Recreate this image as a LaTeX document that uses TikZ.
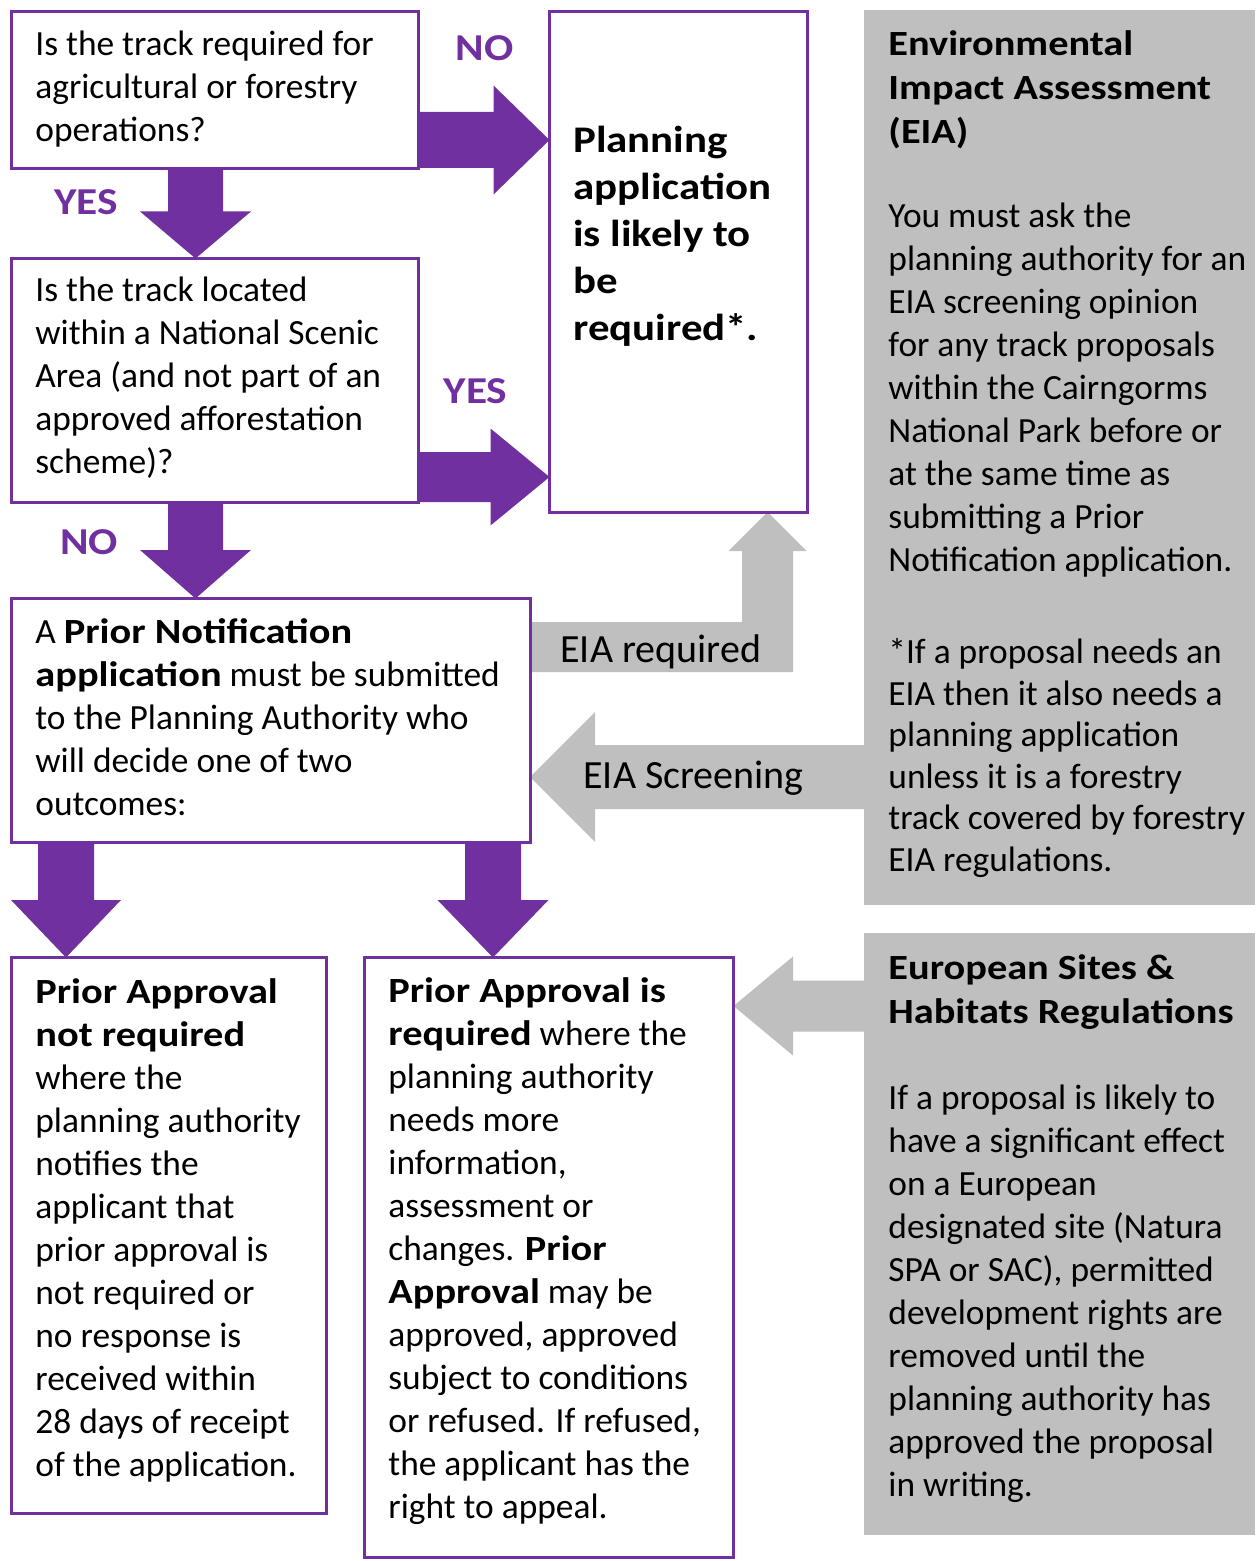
\documentclass[tikz,border=0pt]{standalone}
\usepackage{fontspec}
\setmainfont{Carlito}[BoldFeatures={FakeStretch=1.14}]
\usetikzlibrary{calc}
\definecolor{pu}{HTML}{7030A0}
\definecolor{gr}{HTML}{BFBFBF}
\newcommand{\fs}{\rule{0pt}{14pt}}
\newcommand{\fsb}{\rule{0pt}{15pt}}
% right-pointing block arrow: style, start, tip, shaft half, head half, head length
\newcommand{\arrR}[6]{\fill[#1] ($(#2)+(0,-#4)$) -- ($(#3)+(-#6,-#4)$) -- ($(#3)+(-#6,-#5)$) -- (#3) -- ($(#3)+(-#6,#5)$) -- ($(#3)+(-#6,#4)$) -- ($(#2)+(0,#4)$) -- cycle;}
\newcommand{\arrL}[6]{\fill[#1] ($(#2)+(0,-#4)$) -- ($(#3)+(#6,-#4)$) -- ($(#3)+(#6,-#5)$) -- (#3) -- ($(#3)+(#6,#5)$) -- ($(#3)+(#6,#4)$) -- ($(#2)+(0,#4)$) -- cycle;}
\newcommand{\arrD}[6]{\fill[#1] ($(#2)+(-#4,0)$) -- ($(#3)+(-#4,-#6)$) -- ($(#3)+(-#5,-#6)$) -- (#3) -- ($(#3)+(#5,-#6)$) -- ($(#3)+(#4,-#6)$) -- ($(#2)+(#4,0)$) -- cycle;}
\begin{document}
\begin{tikzpicture}[x=0.5pt,y=-0.5pt,
  box/.style={draw=pu, line width=1.5pt, anchor=north west, inner sep=0pt, outer sep=0pt},
  panel/.style={fill=gr, anchor=north west, inner sep=0pt, outer sep=0pt},
  txt/.style={anchor=north west, inner sep=0pt, align=left, font=\fontsize{17.7}{21.5}\selectfont},
  hdr/.style={txt, font=\fontsize{17.7}{22}\selectfont\bfseries},
  lbl/.style={inner sep=0pt, text=pu, font=\fontsize{19}{22}\selectfont\bfseries},
  glbl/.style={inner sep=0pt, anchor=base west, font=\fontsize{20}{24}\selectfont},
  parrow/.style={fill=pu},
  garrow/.style={fill=gr}]
\useasboundingbox (0,0) rectangle (1255,1561);

% grey panels
\node[panel, minimum width=195.5pt, minimum height=447.5pt] (eiap) at (864,10) {};
\node[panel, minimum width=195.5pt, minimum height=301pt] (eup) at (864,933) {};

% boxes (geometry only, drawn later on top)
\path node[box, draw=none, minimum width=203.25pt, minimum height=78.75pt] (b1) at (11.5,11.5) {}
      node[box, draw=none, minimum width=128.75pt, minimum height=250.25pt] (plan) at (549.5,11.5) {}
      node[box, draw=none, minimum width=203.25pt, minimum height=121.75pt] (b2) at (11.5,258.5) {}
      node[box, draw=none, minimum width=259.25pt, minimum height=122pt] (pn) at (11.5,598.5) {}
      node[box, draw=none, minimum width=157.25pt, minimum height=277.75pt] (pan) at (11.5,957.5) {}
      node[box, draw=none, minimum width=184.5pt, minimum height=300pt] (par) at (364.5,957.5) {};

% anchor points of arrows
\coordinate (a1s) at (b1.east |- 0,140);
\coordinate (a1t) at (plan.west |- 0,140);
\coordinate (a2s) at (b2.east |- 0,477);
\coordinate (a2t) at (plan.west |- 0,477);
\coordinate (a3s) at (b1.south -| 195.5,0);
\coordinate (a3t) at (b2.north -| 195.5,0);
\coordinate (a4s) at (b2.south -| 195.5,0);
\coordinate (a4t) at (pn.north -| 195.5,0);
\coordinate (a5s) at (pn.south -| 66,0);
\coordinate (a5t) at (pan.north -| 66,0);
\coordinate (a6s) at (pn.south -| 493,0);
\coordinate (a6t) at (par.north -| 493,0);
\coordinate (a7s) at (eiap.west |- 0,777);
\coordinate (a7t) at (pn.east |- 0,777);
\coordinate (a8s) at (eup.west |- 0,1006);
\coordinate (a8t) at (par.east |- 0,1006);
\coordinate (erS) at (pn.east |- 0,647);
\coordinate (erT) at (plan.south -| 767.5,0);
\coordinate (erC) at (erT |- erS);

% purple arrows
\arrR{parrow}{a1s}{a1t}{28}{54.5}{56}
\arrR{parrow}{a2s}{a2t}{25}{48.5}{59}
\arrD{parrow}{a3s}{a3t}{27.5}{55.5}{47}
\arrD{parrow}{a4s}{a4t}{27.5}{55.5}{48.5}
\arrD{parrow}{a5s}{a5t}{28}{55}{57.5}
\arrD{parrow}{a6s}{a6t}{28}{55.5}{57.5}

% grey arrows
\arrL{garrow}{a7s}{a7t}{32}{65}{65}
\arrL{garrow}{a8s}{a8t}{25.5}{49.5}{59.5}
\fill[garrow] ($(erS)+(0,-25)$) -- ($(erC)+(-25.5,-25)$) -- ($(erT)+(-25.5,39)$) -- ($(erT)+(-39,39)$) -- (erT) -- ($(erT)+(39,39)$) -- ($(erT)+(25.5,39)$) -- ($(erC)+(25.5,25)$) -- ($(erS)+(0,25)$) -- cycle;

% box outlines
\foreach \n in {b1,plan,b2,pn,pan,par}
  \draw[pu, line width=1.5pt] (\n.north west) rectangle (\n.south east);

% labels
\node[lbl] (lno1) at (484.5,48) {NO};
\node[lbl] (lyes1) at (86,202) {YES};
\node[lbl] (lyes2) at (475.5,391) {YES};
\node[lbl] (lno2) at (89,542) {NO};
\node[glbl] (leir) at (560,662) {EIA required};
\node[glbl] (leis) at (583,788) {EIA Screening};

% texts
\node[txt] (t1) at (35,27) {\fs Is the track required for\\agricultural or forestry\\operations?};
\node[txt] (t2) at (35,273) {\fs Is the track located\\within a National Scenic\\Area (and not part of an\\approved afforestation\\scheme)?};
\node[txt, font=\fontsize{18.8}{23.5}\selectfont\bfseries] (tplan) at (573,122) {\fsb Planning\\application\\is likely to\\be\\required*.};
\node[txt] (tpn) at (35,615) {\fs A \textbf{Prior Notification}\\\textbf{application} must be submitted\\to the Planning Authority who\\will decide one of two\\outcomes:};
\node[hdr] (teh) at (888,27) {\fs Environmental\\Impact Assessment\\(EIA)};
\node[txt] (teb1) at (888,199) {\fs You must ask the\\planning authority for an\\EIA screening opinion\\for any track proposals\\within the Cairngorms\\National Park before or\\at the same time as\\submitting a Prior\\Notification application.};
\node[txt, font=\fontsize{17.7}{20.8}\selectfont] (teb2) at (888,635) {\fs *If a proposal needs an\\EIA then it also needs a\\planning application\\unless it is a forestry\\track covered by forestry\\EIA regulations.};
\node[hdr] (tuh) at (888,951) {\fs European Sites \&\\Habitats Regulations};
\node[txt] (tub) at (888,1081) {\fs If a proposal is likely to\\have a significant effect\\on a European\\designated site (Natura\\SPA or SAC), permitted\\development rights are\\removed until the\\planning authority has\\approved the proposal\\in writing.};
\node[txt] (tpan) at (35,975) {\fs \textbf{Prior Approval}\\\textbf{not required}\\where the\\planning authority\\notifies the\\applicant that\\prior approval is\\not required or\\no response is\\received within\\28 days of receipt\\of the application.};
\node[txt] (tpar) at (388,974) {\fs \textbf{Prior Approval is}\\\textbf{required} where the\\planning authority\\needs more\\information,\\assessment or\\changes. \textbf{Prior}\\\textbf{Approval} may be\\approved, approved\\subject to conditions\\or refused. If refused,\\the applicant has the\\right to appeal.};
\end{tikzpicture}
\end{document}
